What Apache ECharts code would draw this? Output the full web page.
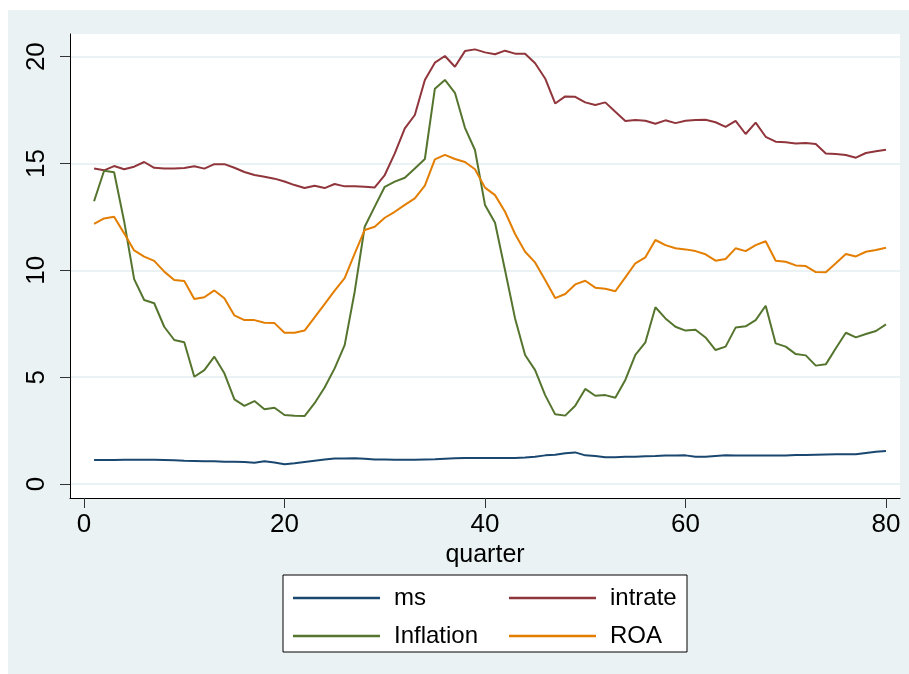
<!DOCTYPE html>
<html>
<head>
<meta charset="utf-8">
<script src="https://cdn.jsdelivr.net/npm/echarts@6/dist/echarts.min.js"></script>
<style>
  html, body { margin: 0; padding: 0; background: #fff; }
  #chart { width: 909px; height: 674px; }
</style>
</head>
<body>
<div id="chart"></div>
<script>
// quarters 1..80
const quarter = [];
for (let q = 1; q <= 80; q++) quarter.push(q);

const ms = [
  1.12, 1.12, 1.12, 1.13, 1.14, 1.14, 1.13, 1.12, 1.11, 1.09,
  1.08, 1.07, 1.06, 1.04, 1.04, 1.03, 1.00, 1.06, 1.01, 0.92,
  0.97, 1.03, 1.09, 1.15, 1.19, 1.19, 1.20, 1.18, 1.15, 1.15,
  1.14, 1.14, 1.14, 1.15, 1.16, 1.18, 1.20, 1.22, 1.22, 1.22,
  1.22, 1.22, 1.22, 1.24, 1.28, 1.34, 1.37, 1.44, 1.48, 1.34,
  1.31, 1.25, 1.25, 1.27, 1.28, 1.30, 1.31, 1.33, 1.33, 1.34,
  1.28, 1.28, 1.31, 1.34, 1.33, 1.33, 1.33, 1.33, 1.33, 1.33,
  1.36, 1.36, 1.37, 1.38, 1.39, 1.39, 1.39, 1.45, 1.51, 1.54
];

const intrate = [
  14.77, 14.68, 14.88, 14.73, 14.85, 15.07, 14.80, 14.76, 14.76, 14.79,
  14.87, 14.76, 14.97, 14.97, 14.80, 14.60, 14.46, 14.38, 14.29, 14.16,
  13.99, 13.85, 13.96, 13.85, 14.04, 13.93, 13.93, 13.91, 13.88, 14.46,
  15.47, 16.64, 17.27, 18.91, 19.72, 20.03, 19.53, 20.26, 20.34, 20.20,
  20.11, 20.28, 20.14, 20.14, 19.69, 18.98, 17.81, 18.14, 18.12, 17.86,
  17.74, 17.86, 17.42, 16.99, 17.03, 17.00, 16.86, 17.02, 16.89, 17.00,
  17.03, 17.05, 16.93, 16.71, 16.99, 16.38, 16.91, 16.25, 16.02, 15.99,
  15.94, 15.96, 15.91, 15.47, 15.44, 15.40, 15.27, 15.49, 15.57, 15.64
];

const inflation = [
  13.23, 14.66, 14.59, 12.30, 9.59, 8.61, 8.46, 7.36, 6.74, 6.63,
  5.02, 5.33, 5.96, 5.18, 3.96, 3.66, 3.88, 3.50, 3.57, 3.23,
  3.20, 3.18, 3.78, 4.52, 5.41, 6.50, 9.00, 12.04, 12.98, 13.91,
  14.15, 14.33, 14.77, 15.21, 18.50, 18.91, 18.31, 16.67, 15.63, 13.06,
  12.23, 10.00, 7.75, 6.04, 5.33, 4.16, 3.26, 3.20, 3.66, 4.45,
  4.13, 4.16, 4.04, 4.87, 6.04, 6.63, 8.27, 7.75, 7.36, 7.18,
  7.22, 6.86, 6.27, 6.43, 7.32, 7.38, 7.67, 8.34, 6.58, 6.43,
  6.08, 6.02, 5.54, 5.60, 6.35, 7.08, 6.86, 7.02, 7.16, 7.47
];

const roa = [
  12.17, 12.43, 12.51, 11.73, 10.93, 10.64, 10.44, 9.94, 9.55, 9.50,
  8.66, 8.74, 9.06, 8.69, 7.89, 7.67, 7.67, 7.55, 7.53, 7.08,
  7.08, 7.18, 7.80, 8.42, 9.05, 9.63, 10.78, 11.89, 12.04, 12.46,
  12.74, 13.06, 13.37, 13.96, 15.19, 15.40, 15.21, 15.07, 14.73, 13.87,
  13.52, 12.74, 11.70, 10.87, 10.37, 9.55, 8.70, 8.89, 9.34, 9.51,
  9.19, 9.14, 9.02, 9.67, 10.33, 10.61, 11.42, 11.18, 11.03, 10.98,
  10.90, 10.75, 10.45, 10.53, 11.03, 10.90, 11.18, 11.36, 10.45, 10.40,
  10.23, 10.20, 9.92, 9.91, 10.33, 10.76, 10.65, 10.87, 10.95, 11.06
];

const xTicks = [0, 20, 40, 60, 80];
const yTicks = [0, 5, 10, 15, 20];

const FONT = "'Liberation Sans', Arial, sans-serif";
const pairs = (vals) => vals.map((v, i) => [quarter[i], v]);

const chart = echarts.init(document.getElementById('chart'));

const makeSeries = (name, vals, color) => ({
  name,
  type: 'line',
  data: pairs(vals),
  symbol: 'none',
  smooth: false,
  lineStyle: { color, width: 2 },
  itemStyle: { color },
  emphasis: { disabled: true },
});

const legendText = {
  fontFamily: FONT,
  fontSize: 24,
  color: '#000',
  rich: { n: { fontFamily: FONT, fontSize: 24, lineHeight: 20, padding: [0, 0, 0, 9], color: '#000' } },
};

chart.setOption({
  backgroundColor: '#ffffff',
  animation: false,
  graphic: [
    { type: 'rect', z: -10, shape: { x: 8, y: 10, width: 901, height: 664 }, style: { fill: '#eaf2f3' } },
    { type: 'rect', z: 3, shape: { x: 283, y: 575, width: 404, height: 77 }, style: { fill: '#fff', stroke: '#000', lineWidth: 1 } },
  ],
  grid: {
    left: 70, top: 34, right: 9, bottom: 176,
    show: true, backgroundColor: '#ffffff', borderWidth: 0,
  },
  xAxis: {
    type: 'value',
    min: -1.4, max: 81.4,
    name: 'quarter',
    nameLocation: 'middle',
    nameGap: 36,
    nameTextStyle: { fontFamily: FONT, fontSize: 25, color: '#000' },
    axisLine: { show: true, onZero: false, lineStyle: { color: '#000', width: 1 } },
    axisTick: { show: true, length: 10, customValues: xTicks, lineStyle: { color: '#333' } },
    axisLabel: { customValues: xTicks, margin: 14, fontFamily: FONT, fontSize: 26, color: '#000' },
    splitLine: { show: false },
  },
  yAxis: {
    type: 'value',
    min: -0.655, max: 21.06,
    axisLine: { show: true, onZero: false, lineStyle: { color: '#000', width: 1 } },
    axisTick: { show: true, length: 10, customValues: yTicks, lineStyle: { color: '#333' } },
    axisLabel: { customValues: yTicks, rotate: 90, margin: 20, fontFamily: FONT, fontSize: 26, color: '#000' },
    splitLine: { show: true, lineStyle: { color: '#eaf2f3', width: 2 } },
  },
  legend: [
    {
      data: ['ms', 'Inflation'],
      orient: 'vertical',
      left: 293, top: 586,
      padding: 0,
      itemWidth: 87, itemHeight: 2.5, itemGap: 14,
      icon: 'rect',
      selectedMode: false,
      formatter: (n) => '{n|' + n + '}',
      textStyle: legendText,
      z: 5,
    },
    {
      data: ['intrate', 'ROA'],
      orient: 'vertical',
      left: 509, top: 586,
      padding: 0,
      itemWidth: 87, itemHeight: 2.5, itemGap: 14,
      icon: 'rect',
      selectedMode: false,
      formatter: (n) => '{n|' + n + '}',
      textStyle: legendText,
      z: 5,
    },
  ],
  series: [
    makeSeries('ms', ms, '#1a476f'),
    makeSeries('intrate', intrate, '#90353b'),
    makeSeries('Inflation', inflation, '#55752f'),
    makeSeries('ROA', roa, '#e37e00'),
  ],
});
</script>
</body>
</html>
